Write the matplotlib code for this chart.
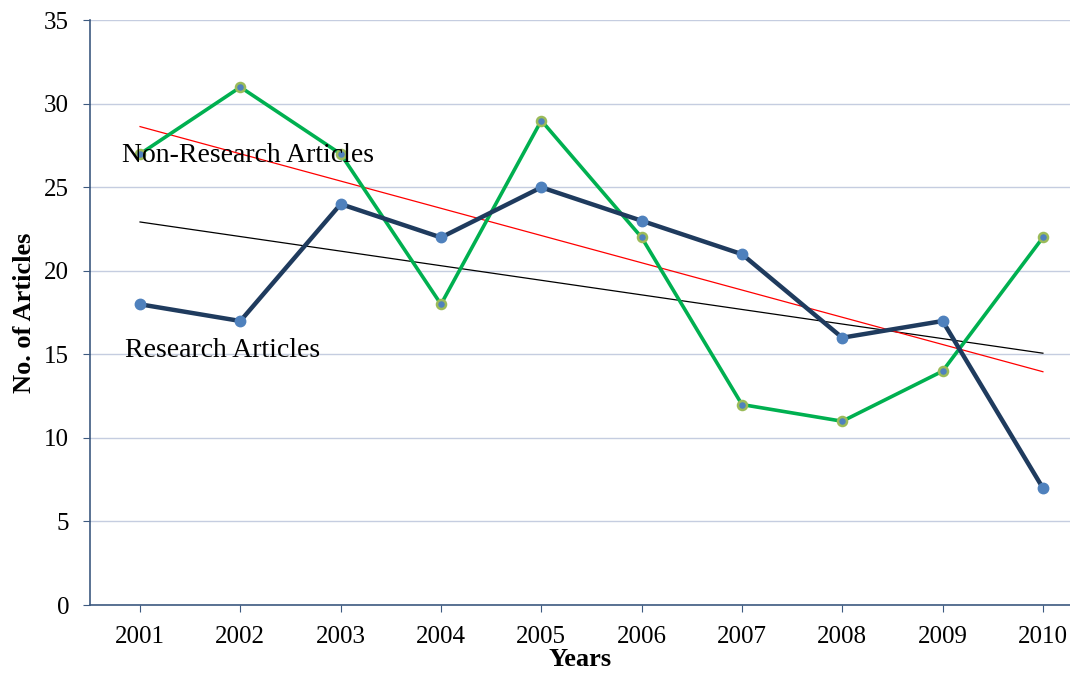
import numpy as np
import matplotlib
matplotlib.use("Agg")
import matplotlib.pyplot as plt

years = [2001, 2002, 2003, 2004, 2005, 2006, 2007, 2008, 2009, 2010]
research = [18, 17, 24, 22, 25, 23, 21, 16, 17, 7]
non_research = [27, 31, 27, 18, 29, 22, 12, 11, 14, 22]

plt.rcParams["font.family"] = ["Liberation Serif", "DejaVu Serif"]

fig = plt.figure(figsize=(10.7, 6.76), dpi=100)
ax = fig.add_axes([0.084, 0.105, 0.916, 0.865])

x = np.array(years, dtype=float)

# linear trend lines
r_fit = np.polyval(np.polyfit(x, research, 1), x)
n_fit = np.polyval(np.polyfit(x, non_research, 1), x)
ax.plot(x, r_fit, color="black", lw=0.9, zorder=2)
ax.plot(x, n_fit, color="red", lw=0.9, zorder=2)

ax.plot(x, non_research, color="#00b050", lw=2.6, marker="o", ms=6.5,
        mfc="#4f81bd", mec="#9bbb59", mew=1.8, zorder=3)
ax.plot(x, research, color="#1f3b5e", lw=3.2, marker="o", ms=7.5,
        mfc="#4f81bd", mec="#4f81bd", zorder=4)

ax.text(2000.82, 26.9, "Non-Research Articles", fontsize=20, va="center", ha="left", zorder=5)
ax.text(2000.85, 15.25, "Research Articles", fontsize=20, va="center", ha="left", zorder=5)

ax.set_xlim(2000.5, 2010.27)
ax.set_ylim(0, 35)
ax.set_xticks(years)
ax.set_yticks(range(0, 36, 5))
ax.tick_params(axis="both", labelsize=18, direction="out", length=5, color="#3d5a80")
ax.tick_params(axis="y", pad=10)
ax.tick_params(axis="x", pad=10)
ax.grid(axis="y", color="#c5cde0", lw=1)
ax.set_axisbelow(True)

for side in ["top", "right"]:
    ax.spines[side].set_visible(False)
for side in ["left", "bottom"]:
    ax.spines[side].set_color("#3d5a80")
    ax.spines[side].set_linewidth(1.2)

ax.set_xlabel("Years", fontsize=19, fontweight="bold", labelpad=0)
ax.set_ylabel("No. of Articles", fontsize=19, fontweight="bold", labelpad=6)

fig.savefig("out.png", dpi=100)
